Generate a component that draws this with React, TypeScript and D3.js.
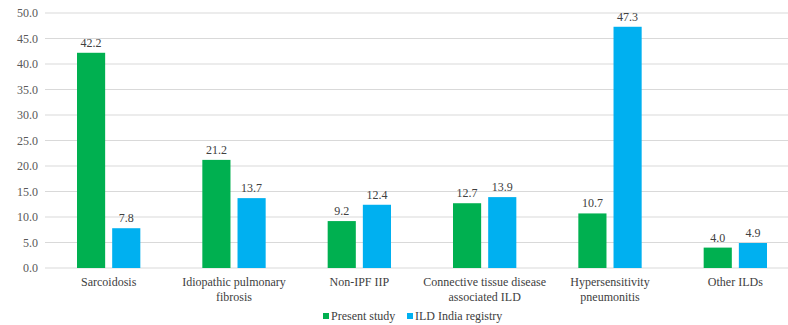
import React from "react";
import * as d3 from "d3";

const categories: string[][] = [
  ["Sarcoidosis"],
  ["Idiopathic pulmonary", "fibrosis"],
  ["Non-IPF IIP"],
  ["Connective tissue disease", "associated ILD"],
  ["Hypersensitivity", "pneumonitis"],
  ["Other ILDs"],
];
const presentStudy = [42.2, 21.2, 9.2, 12.7, 10.7, 4.0];
const ildIndia = [7.8, 13.7, 12.4, 13.9, 47.3, 4.9];
const seriesNames = ["Present study", "ILD India registry"];
const seriesColors = ["#00B050", "#00B0F0"];
const yTicks = [0, 5, 10, 15, 20, 25, 30, 35, 40, 45, 50];

export default function App() {
  const W = 788;
  const H = 325;
  const font = "'Times New Roman', Times, 'Liberation Serif', 'Noto Serif', 'DejaVu Serif', serif";
  const tstyle = { fontFamily: font, fontSize: "12px" } as React.CSSProperties;
  const x = d3
    .scaleBand<number>()
    .domain(d3.range(categories.length))
    .range([46, 798]);
  const inner = d3
    .scaleBand<number>()
    .domain([0, 1])
    .range([31, x.bandwidth() - 31])
    .paddingInner(0.2);
  const y = d3.scaleLinear().domain([0, 50]).range([268, 13]);
  const series = [presentStudy, ildIndia];

  return (
    <div style={{ position: "absolute", left: 0, top: 0 }}>
      <svg width={W} height={H} style={{ display: "block", background: "#fff" }}>
        {yTicks.map((t) => (
          <g key={t}>
            <line x1={45} x2={W} y1={y(t)} y2={y(t)} stroke="#d9d9d9" strokeWidth={1} />
            <text
              x={38}
              y={y(t)}
              dy="0.35em"
              textAnchor="end"
              style={tstyle}
              fill="#595959"
            >
              {t.toFixed(1)}
            </text>
          </g>
        ))}
        {series.map((vals, si) =>
          vals.map((v, ci) => {
            const bx = (x(ci) ?? 0) + (inner(si) ?? 0);
            return (
              <g key={`${si}-${ci}`}>
                <rect
                  x={bx}
                  y={y(v)}
                  width={inner.bandwidth()}
                  height={y(0) - y(v)}
                  fill={seriesColors[si]}
                />
                <text
                  x={bx + inner.bandwidth() / 2}
                  y={y(v) - 6}
                  textAnchor="middle"
                  style={tstyle}
                  fill="#404040"
                >
                  {v.toFixed(1)}
                </text>
              </g>
            );
          })
        )}
        {categories.map((lines, ci) => (
          <text
            key={ci}
            x={(x(ci) ?? 0) + x.bandwidth() / 2}
            textAnchor="middle"
            style={tstyle}
            fill="#404040"
          >
            {lines.map((l, li) => (
              <tspan key={li} x={(x(ci) ?? 0) + x.bandwidth() / 2} y={286 + li * 15}>
                {l}
              </tspan>
            ))}
          </text>
        ))}
        {seriesNames.map((n, i) => {
          const lx = [323, 407][i];
          return (
            <g key={n}>
              <rect x={lx} y={313} width={6} height={6} fill={seriesColors[i]} />
              <text x={lx + 8} y={320} style={tstyle} fill="#404040">
                {n}
              </text>
            </g>
          );
        })}
      </svg>
    </div>
  );
}
